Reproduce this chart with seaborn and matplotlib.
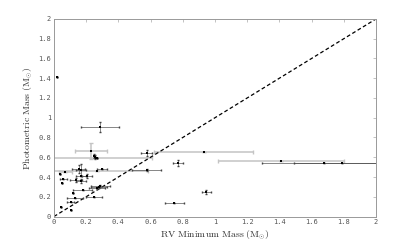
import numpy as np
import pandas as pd
import seaborn as sns
import matplotlib.pyplot as plt

# RV minimum mass vs photometric mass (solar masses)
rv_dark = [0.283, 0.017, 0.576, 0.769, 0.947, 0.748, 0.576, 0.250, 0.258, 0.266,
           0.155, 0.166, 0.297, 0.037, 0.058, 0.050, 0.137, 0.166, 0.207, 0.166,
           0.116, 0.178, 0.129, 0.251, 0.104, 0.044, 0.106, 0.270, 0.280, 0.287,
           1.679, 1.789]
phot_dark = [0.91, 1.41, 0.64, 0.539, 0.245, 0.134, 0.47, 0.61, 0.60, 0.59,
             0.478, 0.47, 0.484, 0.43, 0.377, 0.336, 0.367, 0.363, 0.413, 0.413,
             0.24, 0.265, 0.184, 0.194, 0.147, 0.099, 0.063, 0.29, 0.30, 0.305,
             0.545, 0.545]
rv_err_dark = [0.118, 0.0, 0.035, 0.03, 0.03, 0.06, 0.09, 0.0, 0.0, 0.0,
               0.04, 0.03, 0.03, 0.0, 0.02, 0.0, 0.04, 0.03, 0.03, 0.03,
               0.0, 0.06, 0.05, 0.05, 0.02, 0.0, 0.0, 0.05, 0.05, 0.06,
               0.39, 0.30]
phot_err_dark = [0.05, 0.0, 0.03, 0.03, 0.02, 0.0, 0.01, 0.02, 0.02, 0.0,
                 0.04, 0.06, 0.0, 0.0, 0.0, 0.0, 0.02, 0.02, 0.02, 0.0,
                 0.0, 0.0, 0.0, 0.0, 0.0, 0.0, 0.0, 0.01, 0.01, 0.01,
                 0.0, 0.0]

rv_grey = [0.228, 0.929, 1.41, 0.26, 0.265, 0.07]
phot_grey = [0.667, 0.653, 0.565, 0.59, 0.464, 0.454]
rv_err_grey = [0.10, 0.31, 0.39, 0.35, 0.32, 0.04]
phot_err_grey = [0.08, 0.0, 0.0, 0.0, 0.0, 0.0]

ticks = [0, 0.2, 0.4, 0.6, 0.8, 1, 1.2, 1.4, 1.6, 1.8, 2]
tick_labels = ['0', '0.2', '0.4', '0.6', '0.8', '1', '1.2', '1.4', '1.6', '1.8', '2']

sns.set_theme(style='white')
plt.rcParams['mathtext.fontset'] = 'cm'

fig = plt.figure(figsize=(4.15, 2.43), dpi=100)
ax = fig.add_axes([0.130, 0.109, 0.776, 0.813])

# one-to-one line
diag = pd.DataFrame({'x': [0, 2], 'y': [0, 2]})
sns.lineplot(data=diag, x='x', y='y', ax=ax, color='black', lw=0.9,
             linestyle=(0, (3, 2)), zorder=2)

ax.errorbar(rv_grey, phot_grey, xerr=rv_err_grey, yerr=phot_err_grey,
            fmt='none', ecolor='#c4c4c4', elinewidth=1.1, capsize=1.2, zorder=1)
ax.errorbar(rv_dark, phot_dark, xerr=rv_err_dark, yerr=phot_err_dark,
            fmt='none', ecolor='#444444', elinewidth=0.45, capsize=1.0, zorder=3)

pts = pd.DataFrame({'rv': rv_dark + rv_grey, 'phot': phot_dark + phot_grey})
sns.scatterplot(data=pts, x='rv', y='phot', ax=ax, color='black', marker='s',
                s=4, linewidth=0, zorder=4)

ax.set_xlim(0, 2)
ax.set_ylim(0, 2)
ax.set_xticks(ticks)
ax.set_yticks(ticks)
ax.set_xticklabels(tick_labels, family='DejaVu Sans Mono', fontsize=5, color='#555555')
ax.set_yticklabels(tick_labels, family='DejaVu Sans Mono', fontsize=5, color='#555555')
ax.tick_params(direction='in', length=2.5, width=0.5, color='#aaaaaa',
               top=True, right=True, pad=2)
for sp in ax.spines.values():
    sp.set_color('#999999')
    sp.set_linewidth(0.7)

ax.set_xlabel(r'$\mathrm{RV\ Minimum\ Mass\ (M_{\odot})}$', fontsize=7, color='#333333')
ax.set_ylabel(r'$\mathrm{Photometric\ Mass\ (M_{\odot})}$', fontsize=7, color='#333333')
ax.xaxis.set_label_coords(0.5, -0.06)
ax.yaxis.set_label_coords(-0.058, 0.5)

fig.savefig('out.png', dpi=100)
